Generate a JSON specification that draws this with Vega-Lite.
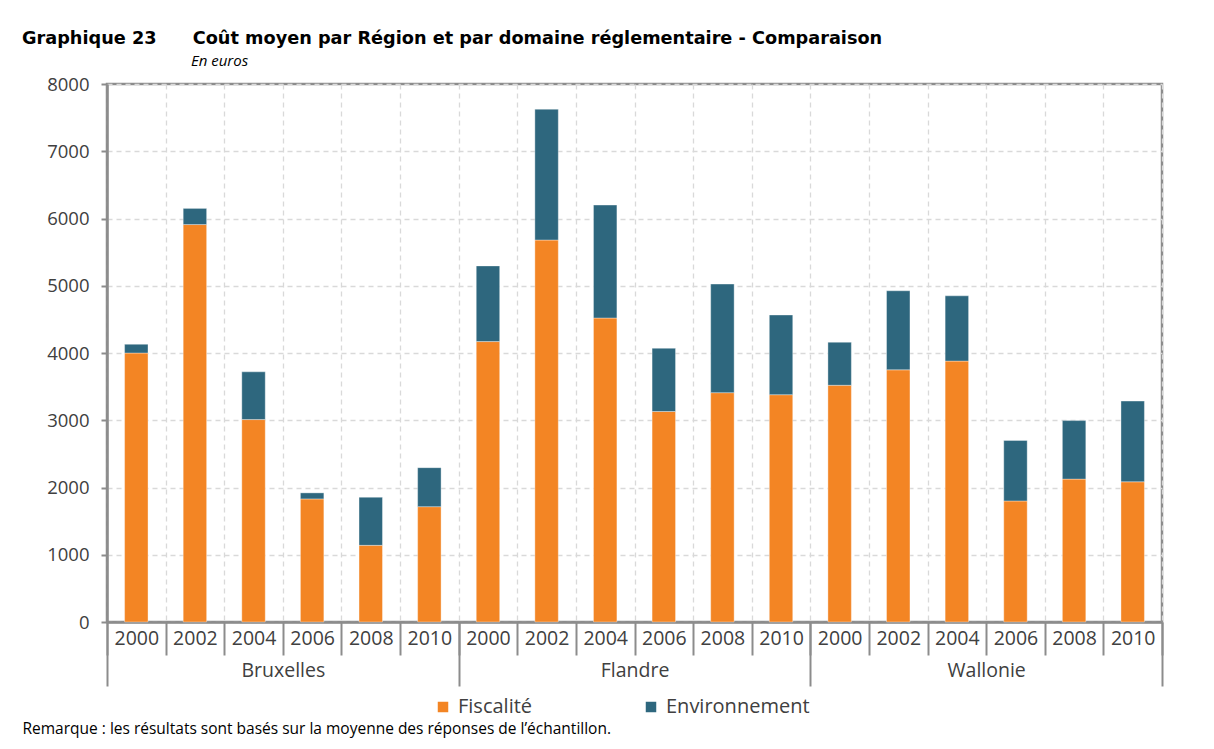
{
  "$schema": "https://vega.github.io/schema/vega-lite/v6.json",
  "width": 1055,
  "height": 538,
  "autosize": {"type": "pad"},
  "padding": {"left": -11, "top": 30, "right": 50, "bottom": 10},
  "background": "#ffffff",
  "title": {
    "text": "Graphique 23\u2003\u2002\u2009 Coût moyen par Région et par domaine réglementaire - Comparaison",
    "subtitle": "\u200b\u2003\u2003\u2003\u2003\u2003\u2003\u2003\u2003\u2003\u2003\u2003 En euros",
    "anchor": "start",
    "frame": "group",
    "dx": -85,
    "font": "DejaVu Sans",
    "fontSize": 17.7,
    "fontWeight": "bold",
    "color": "#000000",
    "subtitleFont": "Open Sans",
    "subtitleFontStyle": "italic",
    "subtitleFontSize": 15,
    "subtitleColor": "#000000",
    "subtitlePadding": 6,
    "offset": 6
  },
  "data": {
    "values": [
      {"key": "Bruxelles 2000", "domaine": "Fiscalité", "value": 4000},
      {"key": "Bruxelles 2000", "domaine": "Environnement", "value": 130},
      {"key": "Bruxelles 2002", "domaine": "Fiscalité", "value": 5910},
      {"key": "Bruxelles 2002", "domaine": "Environnement", "value": 240},
      {"key": "Bruxelles 2004", "domaine": "Fiscalité", "value": 3010},
      {"key": "Bruxelles 2004", "domaine": "Environnement", "value": 710},
      {"key": "Bruxelles 2006", "domaine": "Fiscalité", "value": 1830},
      {"key": "Bruxelles 2006", "domaine": "Environnement", "value": 90},
      {"key": "Bruxelles 2008", "domaine": "Fiscalité", "value": 1140},
      {"key": "Bruxelles 2008", "domaine": "Environnement", "value": 715},
      {"key": "Bruxelles 2010", "domaine": "Fiscalité", "value": 1715},
      {"key": "Bruxelles 2010", "domaine": "Environnement", "value": 580},
      {"key": "Flandre 2000", "domaine": "Fiscalité", "value": 4170},
      {"key": "Flandre 2000", "domaine": "Environnement", "value": 1125},
      {"key": "Flandre 2002", "domaine": "Fiscalité", "value": 5680},
      {"key": "Flandre 2002", "domaine": "Environnement", "value": 1945},
      {"key": "Flandre 2004", "domaine": "Fiscalité", "value": 4520},
      {"key": "Flandre 2004", "domaine": "Environnement", "value": 1680},
      {"key": "Flandre 2006", "domaine": "Fiscalité", "value": 3130},
      {"key": "Flandre 2006", "domaine": "Environnement", "value": 940},
      {"key": "Flandre 2008", "domaine": "Fiscalité", "value": 3410},
      {"key": "Flandre 2008", "domaine": "Environnement", "value": 1615},
      {"key": "Flandre 2010", "domaine": "Fiscalité", "value": 3380},
      {"key": "Flandre 2010", "domaine": "Environnement", "value": 1185},
      {"key": "Wallonie 2000", "domaine": "Fiscalité", "value": 3520},
      {"key": "Wallonie 2000", "domaine": "Environnement", "value": 640},
      {"key": "Wallonie 2002", "domaine": "Fiscalité", "value": 3750},
      {"key": "Wallonie 2002", "domaine": "Environnement", "value": 1175},
      {"key": "Wallonie 2004", "domaine": "Fiscalité", "value": 3880},
      {"key": "Wallonie 2004", "domaine": "Environnement", "value": 970},
      {"key": "Wallonie 2006", "domaine": "Fiscalité", "value": 1800},
      {"key": "Wallonie 2006", "domaine": "Environnement", "value": 900},
      {"key": "Wallonie 2008", "domaine": "Fiscalité", "value": 2125},
      {"key": "Wallonie 2008", "domaine": "Environnement", "value": 870},
      {"key": "Wallonie 2010", "domaine": "Fiscalité", "value": 2085},
      {"key": "Wallonie 2010", "domaine": "Environnement", "value": 1200}
    ]
  },
  "layer": [
    {
      "mark": {"type": "bar", "width": {"band": 0.4}, "stroke": "#ffffff", "strokeWidth": 0.6, "strokeOpacity": 0.6},
      "encoding": {
        "x": {
          "field": "key",
          "type": "ordinal",
          "title": null,
          "scale": {"paddingInner": 0, "paddingOuter": 0},
          "axis": {
            "orient": "bottom",
            "labelExpr": "isString(datum.value) ? split(datum.value, ' ')[1] : ''",
            "labelAngle": 0,
            "labelFont": "Open Sans",
            "labelFontSize": 19.5,
            "labelColor": "#404040",
            "labelPadding": -26,
            "tickBand": "extent",
            "tickSize": 33,
            "tickColor": "#8c8c8c",
            "tickWidth": 2,
            "domainColor": "#8c8c8c",
            "domainWidth": 2.5,
            "grid": true,
            "gridColor": "#d9d9d9",
            "gridDash": [5, 4],
            "gridWidth": 1.3
          }
        },
        "y": {
          "field": "value",
          "type": "quantitative",
          "stack": "zero",
          "scale": {"domain": [0, 8000], "nice": false},
          "axis": {
            "title": null,
            "values": [0, 1000, 2000, 3000, 4000, 5000, 6000, 7000, 8000],
            "format": "d",
            "labelFont": "Open Sans",
            "labelFontSize": 18.5,
            "labelColor": "#404040",
            "labelPadding": 12,
            "tickSize": 6,
            "tickColor": "#8c8c8c",
            "tickWidth": 2,
            "domainColor": "#8c8c8c",
            "domainWidth": 2.5,
            "gridColor": "#d9d9d9",
            "gridDash": [5, 4],
            "gridWidth": 1.3
          }
        },
        "color": {
          "field": "domaine",
          "type": "nominal",
          "sort": ["Fiscalité", "Environnement"],
          "scale": {"domain": ["Fiscalité", "Environnement"], "range": ["#f38524", "#2e677e"]},
          "legend": {
            "title": null,
            "orient": "none",
            "legendX": 326,
            "legendY": 613,
            "direction": "horizontal",
            "symbolType": "square",
            "symbolSize": 110,
            "symbolStrokeWidth": 0,
            "labelFont": "Open Sans",
            "labelFontSize": 20,
            "labelColor": "#404040",
            "labelOffset": 5,
            "columnPadding": 108,
            "padding": 0
          }
        }
      }
    },
    {
      "mark": {"type": "point", "opacity": 0},
      "encoding": {
        "x": {
          "field": "key",
          "type": "ordinal",
          "axis": {
            "orient": "bottom",
            "values": ["Bruxelles 2000", "Bruxelles 2010", "Flandre 2010", "Wallonie 2010"],
            "labelExpr": "isString(datum.value) && datum.value != 'Bruxelles 2000' ? split(datum.value, ' ')[0] : ''",
            "labelAngle": 0,
            "labelFont": "Open Sans",
            "labelFontSize": 19.5,
            "labelColor": "#404040",
            "labelOffset": -146.5,
            "labelPadding": -25,
            "tickBand": "extent",
            "tickSize": 64,
            "tickColor": "#8c8c8c",
            "tickWidth": 2,
            "tickOpacity": {"condition": {"test": "datum.value === 'Bruxelles 2000'", "value": 0}, "value": 1},
            "domain": false,
            "grid": false,
            "title": "Remarque : les résultats sont basés sur la moyenne des réponses de l’échantillon.",
            "titleFont": "Open Sans",
            "titleFontSize": 15.5,
            "titleFontWeight": "normal",
            "titleColor": "#000000",
            "titleAnchor": "start",
            "titleAlign": "left",
            "titleBaseline": "alphabetic",
            "titleX": -85,
            "titleY": 111
          }
        }
      }
    }
  ],
  "resolve": {"axis": {"x": "independent"}},
  "config": {
    "view": {"stroke": "#8c8c8c", "strokeWidth": 2.5}
  }
}
